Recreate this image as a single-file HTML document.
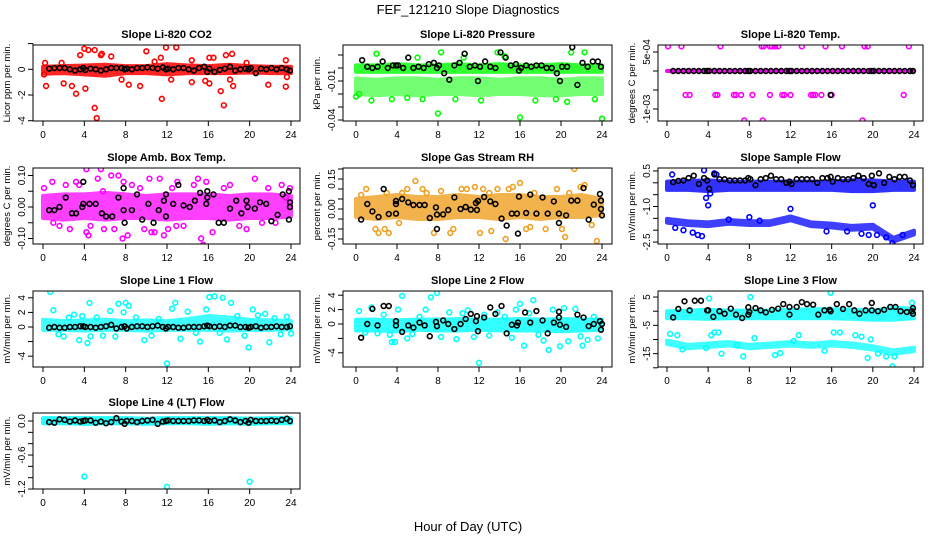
<!DOCTYPE html>
<html><head><meta charset="utf-8"><title>FEF_121210 Slope Diagnostics</title>
<style>
html,body{margin:0;padding:0;background:#fff;}
svg{display:block;font-family:"Liberation Sans",Arial,sans-serif;}
</style></head>
<body>
<svg id="chart" width="936" height="540" viewBox="0 0 936 540" xmlns="http://www.w3.org/2000/svg">
<rect width="936" height="540" fill="#fff"/>
<text x="468" y="14" text-anchor="middle" font-size="13">FEF_121210  Slope Diagnostics</text>
<text x="468" y="531" text-anchor="middle" font-size="13">Hour of Day (UTC)</text>
</svg>
<script>
// ---------- shared data ----------
const xTicks=[0,4,8,12,16,20,24];
const bandHours=[0,2,4,6,8,10,12,14,16,18,20,22,24];
const blackHours=[0.6,1.1,1.6,2.1,2.6,3.1,3.6,3.9,4.1,4.6,5.1,5.6,6.1,6.6,7.1,7.6,7.9,8.1,8.6,9.1,9.6,10.1,10.6,11.1,11.6,11.9,12.1,12.6,13.1,13.6,14.1,14.6,15.1,15.6,15.9,16.1,16.6,17.1,17.6,18.1,18.6,19.1,19.6,19.9,20.1,20.6,21.1,21.6,22.1,22.6,23.1,23.6,23.9];

// ---------- Panel 1: CO2 ----------
const co2Ticks=[2,0,-2,-4];
const co2TickLabels=["","0","-2","-4"];
const co2BandLow=[-0.35,-0.3,-0.4,-0.5,-0.3,-0.3,-0.4,-0.3,-0.3,-0.3,-0.25,-0.3,-0.3];
const co2BandHigh=[0.2,0.25,0.3,0.35,0.25,0.25,0.4,0.3,0.25,0.35,0.25,0.2,0.2];
const co2Hours=[0.2,0.3,1.8,2,2.8,3.2,3.6,4,4.1,4.4,5,5,5.2,5.7,6.6,7.6,8.3,9.4,10,10.8,11.4,11.5,11.9,12.9,12.4,14.4,14.4,15.7,16.1,16.1,16.5,17.2,17.5,17.7,18.1,18.3,18.4,19.7,21.8,23.5,23.5,23.6,5.6,0.1];
const co2Vals=[0.5,-1.3,0.5,-1.1,-1.3,-1.9,1.1,1.6,-1.5,1.5,1.5,-3,-3.8,1.2,1.0,-0.8,-1.2,-1.3,1.4,0.6,0.9,-2.3,1.7,1.7,-0.8,0.7,-1.0,-0.9,0.9,-1.1,0.9,-1.7,-2.8,1.1,-0.8,1.2,-1.3,0.5,-1.2,0.7,-1.35,-0.6,1.1,-0.4];
const co2Black=[0.05,0.1,0.1,0.1,0.0,-0.1,0.0,0.1,-0.05,0.05,0.0,-0.1,0.0,0.1,0.1,0.1,0.0,0.05,0.0,0.1,0.1,0.15,0.1,0.05,0.15,0.0,0.05,0.0,0.1,0.1,0.0,-0.1,0.1,0.2,-0.2,0.05,-0.2,-0.05,0.05,0.2,-0.1,0.0,0.05,0.0,0.1,-0.3,0.05,0.0,0.1,0.0,0.1,0.0,-0.1];

// ---------- Panel 2: Pressure ----------
const presTicks=[0.01,0,-0.01,-0.02,-0.03,-0.04];
const presTickLabels=["","","-0.01","","","-0.04"];
const presBandLow=[-0.003,-0.003,-0.003,-0.003,-0.003,-0.003,-0.003,-0.003,-0.003,-0.003,-0.003,-0.003,-0.003];
const presBandHigh=[0.002,0.002,0.003,0.002,0.002,0.003,0.002,0.003,0.002,0.002,0.003,0.002,0.002];
const presBand2Low=[-0.02,-0.021,-0.02,-0.021,-0.02,-0.02,-0.021,-0.02,-0.02,-0.021,-0.021,-0.02,-0.02];
const presBand2High=[-0.008,-0.009,-0.008,-0.008,-0.009,-0.008,-0.008,-0.009,-0.008,-0.008,-0.009,-0.008,-0.008];
const presHours=[16,0,8,24,2,8.3,13.8,22.3,21,6,20.6,6.5,0.3,1.5,3.5,5,9.7,12.2,17.5,19.5,23.3,10.5,14.5];
const presVals=[-0.038,-0.022,-0.035,-0.039,0.011,0.012,0.012,0.012,0.012,0.008,-0.026,-0.024,-0.02,-0.025,-0.024,-0.023,-0.024,-0.025,-0.025,-0.024,-0.024,0.008,0.009];
const presBlack=[0.006,0.001,0.0,0.001,0.005,0.0,0.002,0.002,0.002,0.0,0.008,0.0,0.001,0.0,0.003,0.004,0.0,0.002,-0.004,-0.009,0.002,0.004,0.011,0.001,0.002,-0.01,0.001,0.005,0.001,0.0,0.012,0.008,0.002,0.003,-0.002,0.0,0.002,0.001,0.002,0.002,0.0,0.0,-0.004,-0.01,0.001,0.001,0.016,-0.013,0.004,0.001,0.005,0.005,0.001];

// ---------- Panel 3: Temp ----------
const tempTicks=[5e-4,0,-5e-4,-1e-3];
const tempTickLabels=["5e-04","","","-1e-03"];
const tempBandLow=[0,0,0,0,0,0,0,0,0,0,0,0,0];
const tempBandHigh=[0,0,0,0,0,0,0,0,0,0,0,0,0];
const tempHours=[0.1,1.4,5.2,9.2,9.4,10,10.2,10.5,10.8,13.1,15.4,17,19.2,19.5,23.5,1.8,2.2,4.7,4.9,6.5,6.7,7.2,8.3,10,11.2,11.4,12,14,14.2,14.4,15,16,23,7.5,9.3,19];
const tempVals=[6.5e-4,6.5e-4,6.5e-4,6.5e-4,6.5e-4,6.5e-4,6.5e-4,6.5e-4,6.5e-4,6.5e-4,6.5e-4,6.5e-4,6.5e-4,6.5e-4,6.5e-4,-6.3e-4,-6.3e-4,-6.3e-4,-6.3e-4,-6.3e-4,-6.3e-4,-6.3e-4,-6.3e-4,-6.3e-4,-6.3e-4,-6.3e-4,-6.3e-4,-6.3e-4,-6.3e-4,-6.3e-4,-6.3e-4,-6.3e-4,-6.3e-4,-1.3e-3,-1.3e-3,-1.3e-3];
const tempBlack=[0,0,0,0,0,0,0,0,0,0,0,0,0,0,0,0,0,0,0,0,0,0,0,0,0,0,0,0,0,0,0,0,0,0,-6.3e-4,0,0,0,0,0,0,0,0,0,0,0,0,0,0,0,0,0,0];

// ---------- Panel 4: Amb Box Temp ----------
const ambTicks=[0.1,0.05,0,-0.05,-0.1];
const ambTickLabels=["0.10","","0.00","","-0.10"];
const ambBandLow=[-0.035,-0.04,-0.035,-0.04,-0.035,-0.035,-0.04,-0.035,-0.035,-0.04,-0.035,-0.035,-0.03];
const ambBandHigh=[0.035,0.04,0.04,0.045,0.04,0.035,0.04,0.04,0.04,0.035,0.04,0.04,0.035];
const ambHours=[0.1,0.9,1.6,2.2,2.6,3.2,3.5,4.2,4.4,4.6,5.3,5.6,5.9,6.6,6.9,7.3,7.7,8.2,8.6,9.8,10.3,10.8,11.3,11.7,12.1,12.5,13.0,13.6,14.6,15.0,15.5,15.8,16.4,17.5,18.1,19.0,19.7,20.5,21.2,21.8,22.5,23.1,23.5,23.9,4.2,5.8,1.0,7.8,10.5,12.9,15.3,9.4];
const ambVals=[0.06,0.08,-0.06,0.07,-0.07,0.08,0.07,0.12,-0.09,-0.06,0.09,0.12,-0.07,0.10,-0.07,0.10,-0.1,-0.09,0.07,-0.07,0.09,-0.08,0.09,-0.09,-0.07,0.06,0.08,-0.06,0.07,0.09,-0.12,0.08,-0.08,0.06,0.07,-0.06,-0.07,0.09,-0.05,0.06,-0.05,0.07,0.03,0.06,-0.08,0.05,-0.05,0.08,-0.08,-0.06,-0.1,0.06];
const ambBlackHours=[0.6,1.1,1.6,2.2,2.8,3.2,3.8,3.9,3.9,4.5,5.1,5.7,6.1,6.7,7.3,7.8,7.8,7.9,8.6,9.1,9.6,10.2,10.7,11.2,11.7,11.9,11.9,12.6,13.1,13.6,14.2,14.7,15.2,15.8,15.9,15.9,16.5,17.0,17.5,18.1,18.7,19.2,19.7,19.8,20.5,21.0,21.6,22.1,22.7,23.2,23.8,23.8,23.9,23.9];
const ambBlack=[-0.01,-0.01,0,0.03,-0.02,-0.02,0,0.08,0.01,0.01,0.01,-0.02,-0.03,-0.03,0.03,-0.01,0.06,-0.05,-0.01,0.04,-0.04,0.01,-0.05,-0.01,0.02,0.04,-0.03,0.01,0.07,0.005,0,0.02,0.045,0.01,0.05,0.03,0.04,-0.05,-0.05,-0.005,0.02,-0.02,0.02,0,-0.005,0.015,0.01,-0.045,-0.025,0.04,0.05,-0.04,0.015,0];

// ---------- Panel 5: Gas Stream RH ----------
const rhTicks=[0.2,0.15,0.1,0.05,0,-0.05,-0.1,-0.15];
const rhTickLabels=["","0.15","","","0.00","","","-0.15"];
const rhBandLow=[-0.04,-0.05,-0.04,-0.05,-0.05,-0.04,-0.04,-0.05,-0.04,-0.05,-0.04,-0.04,-0.03];
const rhBandHigh=[0.05,0.06,0.07,0.06,0.06,0.07,0.06,0.07,0.07,0.06,0.06,0.07,0.05];
const rhHours=[0.5,1.0,1.9,2.2,2.8,3.2,4.2,4.5,5.0,5.8,6.5,6.9,7.6,8.3,9.2,10.3,10.8,11.6,12.1,12.4,13.2,13.8,14.6,14.9,15.3,16.0,17.0,17.4,18.5,19.6,20.4,20.8,21.3,21.9,22.3,23.0,23.5,3.0,9.5,13.0,16.6,20.1];
const rhVals=[0.07,0.1,-0.1,-0.12,-0.1,-0.12,-0.07,0.08,0.1,0.14,0.1,0.08,-0.12,0.09,-0.12,0.1,0.1,0.11,-0.12,0.1,-0.11,0.1,-0.15,0.1,0.11,0.13,-0.09,0.08,-0.1,0.1,-0.14,0.08,0.2,0.11,0.12,-0.08,-0.16,0.08,-0.1,0.08,-0.1,-0.1];
const rhBlackHours=[0.5,1.1,1.6,2.2,2.7,3.2,3.9,3.9,3.9,4.5,5.1,5.6,6.2,6.7,7.2,7.8,7.9,7.9,8.5,9.0,9.6,10.2,10.7,11.2,11.7,11.8,11.9,12.5,13.1,13.6,14.2,14.7,15.2,15.7,15.8,15.9,16.6,17.0,17.6,18.2,18.7,19.3,19.8,19.8,20.5,21.0,21.6,22.2,22.7,23.2,23.8,23.9,23.9,24.0];
const rhBlack=[-0.053,0.025,-0.012,-0.04,0.1,-0.025,0.04,0.025,-0.023,0.05,0.033,0.02,0.02,0.02,-0.045,0.008,-0.028,-0.1,-0.027,-0.005,0.058,0,0.01,-0.003,0.03,-0.005,0.04,0.06,0.038,0.025,-0.048,-0.083,-0.023,-0.023,-0.123,0.062,-0.02,0.072,-0.023,0.058,-0.023,0.038,-0.023,-0.07,-0.032,0.042,0.042,0.105,-0.053,0.022,0.075,0.042,0,-0.032];

// ---------- Panel 6: Sample Flow ----------
const sampTicks=[0.5,0,-0.5,-1,-1.5,-2,-2.5];
const sampTickLabels=["0.5","","","-1.0","","","-2.5"];
const sampBandLow=[-0.3,-0.3,-0.35,-0.3,-0.3,-0.3,-0.3,-0.3,-0.3,-0.35,-0.35,-0.3,-0.3];
const sampBandHigh=[0.05,0.07,0.1,0.05,0.05,0.05,0.05,0.05,0.05,0.1,0.1,0.05,0.05];
const sampBand2Low=[-1.68,-1.78,-1.83,-1.73,-1.78,-1.78,-1.58,-1.83,-1.88,-1.98,-1.93,-2.48,-2.18];
const sampBand2High=[-1.52,-1.62,-1.67,-1.57,-1.62,-1.62,-1.42,-1.67,-1.72,-1.82,-1.77,-2.32,-2.02];
const sampHours=[0.5,3.6,3.8,4.0,4.2,4.6,4.8,2.5,3.0,3.4,0.8,1.6,12.0,20.0,20.4,21.3,21.9,19.6,8.0,6.0,9.0,15.5,17.5,18.9,22.9];
const sampVals=[0.35,0.53,-0.64,-0.95,-0.45,0.4,0.35,-2.1,-2.2,-2.25,-1.9,-2.0,-1.1,-0.95,-2.2,-2.3,-2.55,-2.2,-1.45,-1.55,-1.6,-2.05,-2.05,-2.15,-2.2];
const sampBlack=[0.03,0.08,0.1,0.2,0.3,-0.05,0.2,0.1,-0.25,0.35,0.15,0.15,0.1,0.1,0.1,0.1,0.2,0.15,-0.1,0.15,0.2,0.3,0.15,0.15,0.0,0.05,-0.05,0.15,0.15,0.15,0.15,0.0,0.2,0.2,0.25,0.05,0.2,0.15,0.15,0.2,0.3,0.2,-0.05,0.3,-0.1,0.4,0.0,0.25,0.15,0.25,0.25,0.1,-0.1];

// ---------- Panel 7: Line 1 Flow ----------
const l1Ticks=[4,2,0,-2,-4];
const l1TickLabels=["4","2","0","","-4"];
const l1BandLow=[-0.4,-0.4,-0.5,-0.4,-0.4,-0.5,-0.4,-0.4,-0.4,-0.5,-0.4,-0.4,-0.3];
const l1BandHigh=[1.0,0.8,0.9,1.0,0.8,0.9,0.8,1.1,1.5,1.3,1.0,0.9,0.8];
const l1Hours=[0.7,1.0,1.5,2.0,2.5,3.0,3.5,3.8,4.3,4.5,4.6,5.2,5.8,6.5,7.0,7.3,7.8,8.0,8.3,9.0,9.8,10.5,11.2,12.0,12.5,12.8,13.3,14.0,14.8,15.2,15.8,16.1,16.6,17.1,17.4,17.8,18.2,18.8,19.5,19.9,20.3,20.8,21.5,21.9,22.4,23.0,23.6,24];
const l1Vals=[4.8,2.3,-1.0,-1.3,1.3,1.7,-1.8,1.5,-2.2,3.3,-1.3,1.3,-1.2,2.2,-1.3,3.2,2.0,3.3,2.9,1.3,-1.8,-1.2,1.1,-5.0,2.5,3.3,-1.6,2.1,-0.8,-2.0,2.4,4.1,4.2,-0.8,4.0,-1.7,3.3,1.5,-1.2,-2.8,2.4,1.6,1.8,-2.1,1.2,-1.0,1.4,-0.9];
const l1Black=[-0.1,0,-0.1,-0.1,0,0,0.1,0.1,0,0,-0.1,0,0.1,0.3,-0.2,0,0.1,-0.2,0,0.1,0.1,0,0.1,0.2,0,-0.2,0,0,-0.1,-0.1,0,0,0,0.1,0.2,0.1,0,0.1,0,0.2,0.2,0,0,-0.1,0,0.1,-0.1,0,0,0.1,0,0,0.1];

// ---------- Panel 8: Line 2 Flow ----------
const l2Ticks=[4,2,0,-2,-4];
const l2TickLabels=["4","2","0","","-4"];
const l2BandLow=[-0.9,-0.9,-1.0,-0.8,-0.9,-0.9,-0.8,-0.9,-0.9,-0.9,-1.0,-0.9,-0.8];
const l2BandHigh=[0.6,0.6,0.5,0.6,0.6,0.7,0.6,0.6,0.7,0.6,0.7,0.6,0.6];
const l2Hours=[0.3,0.9,1.5,2.1,2.7,3.3,3.5,3.8,4.1,4.5,5.0,5.5,6.2,6.8,7.3,7.9,8.3,9.1,9.8,10.4,10.9,11.5,12.0,12.5,13.0,13.8,14.5,15.2,15.6,16.0,16.4,16.9,17.3,17.8,18.3,18.8,19.2,19.9,20.3,20.7,21.4,21.9,22.1,22.6,23.2,23.6];
const l2Vals=[1.8,-1.2,2.3,-1.3,1.3,-1.5,-2.5,-2.5,2.0,3.9,-2.0,-1.4,1.0,2.0,3.7,4.3,-1.8,1.6,-2.1,1.5,1.9,-1.8,-5.4,1.3,-1.6,1.6,1.0,-1.9,2.0,2.8,-3.0,1.5,3.3,-1.5,-2.3,-3.6,2.0,-3.1,2.2,-2.4,2.1,-1.7,-3.0,-2.2,1.0,-2.0];
const l2BlackHours=[0.5,1.1,1.6,2.1,2.7,3.2,3.9,3.9,4.5,5.1,5.6,6.2,6.7,7.2,7.8,7.9,8.5,9.0,9.6,10.2,10.7,11.2,11.7,11.8,11.9,12.5,13.1,13.6,14.2,14.7,15.2,15.7,15.8,16.5,17.0,17.6,18.2,18.7,19.3,19.8,19.8,19.9,20.5,21.6,22.2,22.7,23.2,23.8,23.9,24.0];
const l2Black=[-1.9,0,2.1,-0.2,2.5,2.5,0.4,-0.2,-1.1,-0.2,-0.5,0.2,-0.2,-1.7,0.3,-0.3,0.5,0,-0.7,0,0.7,1.4,0.4,1.1,-1,0.9,2.3,1.4,2.5,-1.3,-0.1,-0.2,0.2,1.6,0.2,1.8,0.5,-1.3,0.2,1.7,0.9,-0.1,-0.4,1.3,0.9,-0.3,0,0.4,-0.8,0];

// ---------- Panel 9: Line 3 Flow ----------
const l3Ticks=[5,0,-5,-10,-15,-20];
const l3TickLabels=["5","","-5","","-15",""];
const l3BandLow=[-2.5,-2.5,-2.7,-2.5,-2.5,-2.5,-2.5,-2.5,-2.5,-2.7,-3,-3,-2.5];
const l3BandHigh=[0,0.2,0.5,0.2,0.2,0.2,0.5,0.7,0.7,0.5,0.2,1.2,0.9];
const l3Band2Low=[-11.6,-13.1,-12.6,-12.1,-13.1,-12.6,-12.1,-12.6,-12.1,-12.6,-13.6,-15.1,-14.1];
const l3Band2High=[-10.4,-11.9,-11.4,-10.9,-11.9,-11.4,-10.9,-11.4,-10.9,-11.4,-12.4,-13.9,-12.9];
const l3Hours=[0.3,1.0,1.5,4.1,4.3,4.6,5.0,5.3,7.4,8.1,8.5,10.5,11.0,12.3,12.8,15.3,15.9,16.2,16.8,18.3,18.9,19.5,19.8,20.5,21.3,21.9,22.1,23.8,3.8,6.8];
const l3Vals=[-8,-8.5,-13.5,4.5,-8.5,-7.5,-7.5,-15,-16,5,-9.5,-15.5,-14.8,-10.5,-8.5,-14,6.5,-7.5,-7.5,-8.5,-9,-16.5,-10,-15,-16,-19.5,-16,3,-13,-12];
const l3BlackHours=[0.6,1.1,1.7,2.2,2.7,3.3,3.9,4.0,4.5,5.1,5.6,6.2,6.7,7.3,7.9,7.9,8.0,8.6,9.1,9.6,10.2,10.8,11.3,11.9,11.9,12.6,13.1,13.6,14.2,14.7,15.3,15.8,15.9,16.5,17.1,17.7,18.2,18.7,19.3,19.9,19.9,20.5,21.1,21.7,22.2,22.7,23.3,23.8,23.9,23.9];
const l3Black=[-2.2,0.8,3.5,0.3,3.7,3.7,0.3,0.3,-2,0,-0.9,0.9,-1.2,-2.4,1.4,-1.2,-0.3,1.1,0.3,-0.4,0.5,0.9,2.5,1.5,-1.2,1.5,3.2,2.5,2.3,-1.2,0.3,0.5,0,2.5,0.8,2.5,0.3,-0.9,0.3,2.9,0.3,0,0.5,1.5,1.5,0,-0.3,0,1.1,-0.9];

// ---------- Panel 10: Line 4 Flow ----------
const l4Ticks=[0,-0.2,-0.4,-0.6,-0.8,-1.0,-1.2];
const l4TickLabels=["0.0","","","-0.6","","","-1.2"];
const l4BandLow=[-0.04,-0.04,-0.05,-0.04,-0.04,-0.05,-0.04,-0.04,-0.05,-0.04,-0.05,-0.04,-0.04];
const l4BandHigh=[0.05,0.05,0.05,0.05,0.05,0.04,0.05,0.05,0.05,0.05,0.04,0.05,0.05];
const l4Hours=[4,12,20];
const l4Vals=[-0.98,-1.16,-1.07];
const l4Black=[-0.02,-0.03,0.03,0.02,-0.01,0.01,-0.01,0,0.01,0.01,-0.03,-0.01,-0.04,-0.02,0.05,-0.01,-0.05,0,0,-0.02,0,0.01,0.02,-0.05,-0.01,0,0.01,0,0,0,0,0.01,0.01,0,0.02,0,0.01,-0.02,0,0.03,0.01,-0.02,0,-0.03,0.02,0,0,0,0.01,0,0.02,0.04,0];

// ---------- layout (not data) ----------
const cols=[{l:33,r:300,x0:43,x24:291},{l:343,r:612,x0:356,x24:602},{l:658,r:923,x0:667,x24:914}];
const rows=[{t:45,b:121},{t:168,b:244},{t:291,b:367},{t:413,b:489}];
const NS='http://www.w3.org/2000/svg';
const svg=document.getElementById('chart');
function make(tag,attrs,parent){const e=document.createElementNS(NS,tag);for(const k in attrs)e.setAttribute(k,attrs[k]);parent.appendChild(e);return e;}

const panels=[
 {key:'co2',title:'Slope Li-820 CO2',ylab:'Licor ppm per min.',col:0,row:0,zero:69.3,k:12.85,color:'#ff0000',ticks:co2Ticks,tl:co2TickLabels,bl:co2BandLow,bh:co2BandHigh,oh:co2Hours,ov:co2Vals,kh:blackHours,kv:co2Black,op:0.85},
 {key:'pressure',title:'Slope Li-820 Pressure',ylab:'kPa per min.',col:1,row:0,zero:68,k:1300,color:'#00ff00',ticks:presTicks,tl:presTickLabels,bl:presBandLow,bh:presBandHigh,b2l:presBand2Low,b2h:presBand2High,oh:presHours,ov:presVals,kh:blackHours,kv:presBlack,op:0.8,op2:0.55},
 {key:'temp',title:'Slope Li-820 Temp.',ylab:'degrees C per min.',col:2,row:0,zero:71,k:38000,color:'#ff00ff',ticks:tempTicks,tl:tempTickLabels,bl:tempBandLow,bh:tempBandHigh,oh:tempHours,ov:tempVals,kh:blackHours,kv:tempBlack,op:1},
 {key:'amb-box-temp',title:'Slope Amb. Box Temp.',ylab:'degrees C per min.',col:0,row:1,zero:207,k:315,color:'#ff00ff',ticks:ambTicks,tl:ambTickLabels,bl:ambBandLow,bh:ambBandHigh,oh:ambHours,ov:ambVals,kh:ambBlackHours,kv:ambBlack,op:0.75},
 {key:'gas-rh',title:'Slope Gas Stream RH',ylab:'percent per min.',col:1,row:1,zero:209,k:200,color:'#f0a020',ticks:rhTicks,tl:rhTickLabels,bl:rhBandLow,bh:rhBandHigh,oh:rhHours,ov:rhVals,kh:rhBlackHours,kv:rhBlack,op:0.8},
 {key:'sample-flow',title:'Slope Sample Flow',ylab:'mV/min per min.',col:2,row:1,zero:182.8,k:23.7,color:'#0000ff',ticks:sampTicks,tl:sampTickLabels,bl:sampBandLow,bh:sampBandHigh,b2l:sampBand2Low,b2h:sampBand2High,oh:sampHours,ov:sampVals,kh:blackHours,kv:sampBlack,op:0.8,op2:0.75},
 {key:'line1-flow',title:'Slope Line 1 Flow',ylab:'mV/min per min.',col:0,row:2,zero:327,k:7.3,color:'#00ffff',ticks:l1Ticks,tl:l1TickLabels,bl:l1BandLow,bh:l1BandHigh,oh:l1Hours,ov:l1Vals,kh:blackHours,kv:l1Black,op:0.75},
 {key:'line2-flow',title:'Slope Line 2 Flow',ylab:'mV/min per min.',col:1,row:2,zero:324,k:7.2,color:'#00ffff',ticks:l2Ticks,tl:l2TickLabels,bl:l2BandLow,bh:l2BandHigh,oh:l2Hours,ov:l2Vals,kh:l2BlackHours,kv:l2Black,op:0.8},
 {key:'line3-flow',title:'Slope Line 3 Flow',ylab:'mV/min per min.',col:2,row:2,zero:311.2,k:2.83,color:'#00ffff',ticks:l3Ticks,tl:l3TickLabels,bl:l3BandLow,bh:l3BandHigh,b2l:l3Band2Low,b2h:l3Band2High,oh:l3Hours,ov:l3Vals,kh:l3BlackHours,kv:l3Black,op:0.8,op2:0.75},
 {key:'line4-flow',title:'Slope Line 4 (LT) Flow',ylab:'mV/min per min.',col:0,row:3,zero:421,k:56.7,color:'#00ffff',ticks:l4Ticks,tl:l4TickLabels,bl:l4BandLow,bh:l4BandHigh,oh:l4Hours,ov:l4Vals,kh:blackHours,kv:l4Black,op:0.85}
];

panels.forEach(p=>{
  const c=cols[p.col], r=rows[p.row];
  const xs=h=>c.x0+(c.x24-c.x0)*h/24;
  const ys=v=>p.zero-v*p.k;
  const g=make('g',{},svg);
  
  
  const clipId='clip-'+p.key;
  const cp=make('clipPath',{id:clipId},g);
  make('rect',{x:c.l,y:r.t,width:c.r-c.l,height:r.b-r.t},cp);
  const t=make('text',{x:(c.l+c.r)/2,y:r.t-7,'text-anchor':'middle','font-size':'11','font-weight':'bold'},g);
  t.textContent=p.title;
  
  
  const plot=make('g',{'clip-path':'url(#'+clipId+')'},g);
  
  
  function band(lo,hi,name,op){
    let pts=bandHours.map((h,i)=>xs(h)+','+ys(hi[i]));
    for(let i=bandHours.length-1;i>=0;i--)pts.push(xs(bandHours[i])+','+ys(lo[i]));
    const b=make('polygon',{points:pts.join(' '),fill:p.color,stroke:p.color,'stroke-width':4,'stroke-linejoin':'round',opacity:op},plot);
    
    
  }
  band(p.bl,p.bh,p.key+'-dense-band',p.op);
  if(p.b2l) band(p.b2l,p.b2h,p.key+'-lower-band',p.op2);
  const n=Math.min(p.oh.length,p.ov.length);
  for(let i=0;i<n;i++){
    const pt=make('circle',{cx:xs(p.oh[i]),cy:ys(p.ov[i]),r:2.4,fill:'none',stroke:p.color,'stroke-width':1.6},plot);
    
    
  }
  const m=Math.min(p.kh.length,p.kv.length);
  for(let i=0;i<m;i++){
    const pt=make('circle',{cx:xs(p.kh[i]),cy:ys(p.kv[i]),r:2.4,fill:'none',stroke:'#000','stroke-width':1.6},plot);
    
    
  }
  const box=make('rect',{x:c.l,y:r.t,width:c.r-c.l,height:r.b-r.t,fill:'none',stroke:'#000','stroke-width':1},g);
  
  
  const xa=make('g',{},g);
  
  
  make('line',{x1:xs(0),x2:xs(24),y1:r.b,y2:r.b,stroke:'#000'},xa);
  xTicks.forEach(h=>{
    make('line',{x1:xs(h),x2:xs(h),y1:r.b,y2:r.b+5,stroke:'#000'},xa);
    const tx=make('text',{x:xs(h),y:r.b+17,'text-anchor':'middle','font-size':'10'},xa);
    tx.textContent=h;
    
    
  });
  const ya=make('g',{},g);
  
  
  make('line',{x1:c.l,x2:c.l,y1:ys(p.ticks[0]),y2:ys(p.ticks[p.ticks.length-1]),stroke:'#000'},ya);
  p.ticks.forEach((v,i)=>{
    const y=ys(v);
    make('line',{x1:c.l-5,x2:c.l,y1:y,y2:y,stroke:'#000'},ya);
    if(p.tl[i]){
      const ty=make('text',{x:c.l-8,y:y,'text-anchor':'middle','font-size':'10',transform:'rotate(-90 '+(c.l-8)+' '+y+')'},ya);
      ty.textContent=p.tl[i];
      
      
    }
  });
  const yl=make('text',{x:c.l-23,y:(r.t+r.b)/2,'text-anchor':'middle','font-size':'9.5',transform:'rotate(-90 '+(c.l-23)+' '+((r.t+r.b)/2)+')'},g);
  yl.textContent=p.ylab;
  
  
});
</script>
</body></html>
